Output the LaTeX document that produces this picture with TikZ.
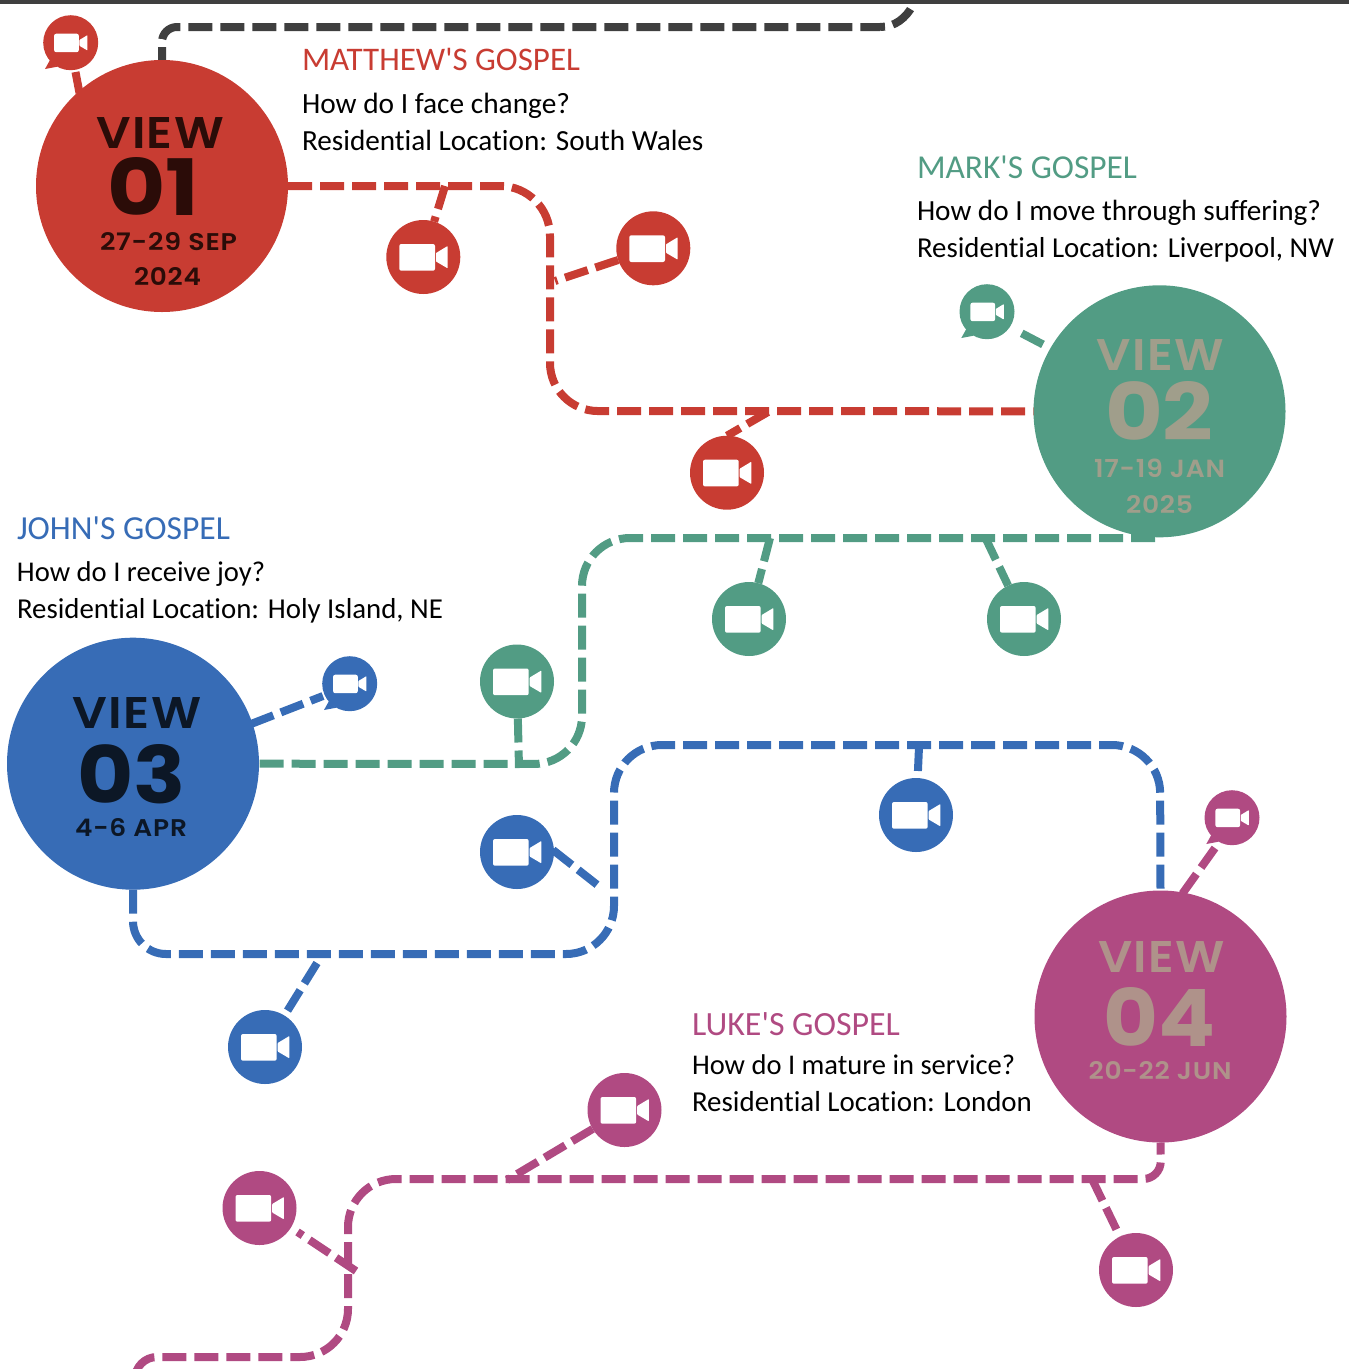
\documentclass[tikz,border=0pt]{standalone}
\usepackage{fontspec}
\usepackage{graphicx}
\setmainfont{Carlito}[Ligatures={TeXOff,CommonOff}]
\newfontfamily\viewfont{Poppins SemiBold}[LetterSpace=3]
\newfontfamily\digitfont{Poppins Bold}
\definecolor{cred}{HTML}{C83C32}
\definecolor{cgreen}{HTML}{529C84}
\definecolor{cblue}{HTML}{376CB6}
\definecolor{cmag}{HTML}{B04A82}
\definecolor{cdark}{HTML}{3F3F3F}
\definecolor{tred}{HTML}{2B0C08}
\definecolor{tgreen}{HTML}{A09E8B}
\definecolor{tblue}{HTML}{0C1726}
\definecolor{tmag}{HTML}{AF928A}
\pgfdeclarelayer{bg}
\pgfsetlayers{bg,main}
\newcommand{\fitw}[2]{\resizebox{#1pt}{!}{\strut #2}}
\newcommand{\fitwh}[3]{\resizebox{#1pt}{#2pt}{\viewfont #3}}
\newcommand{\fitdg}[3]{\resizebox{#1pt}{#2pt}{\digitfont #3}}
\tikzset{
  view/.style={circle,fill=#1,inner sep=0pt,outer sep=0pt,minimum size=252pt},
  cam/.style={circle,fill=#1,inner sep=0pt,outer sep=0pt,minimum size=74pt},
  smallcam/.style={circle,fill=#1,inner sep=0pt,outer sep=0pt,minimum size=55pt},
  route/.style={draw=#1,line width=8pt,dash pattern=on 24pt off 8pt,line cap=butt},
  txt/.style={anchor=base west,inner sep=0pt,outer sep=0pt},
  camicon/.pic={
    \fill[white,rounded corners=2pt] (-24,-13) rectangle (11.7,13.7);
    \fill[white,rounded corners=0.6pt] (12.7,-4) -- (24.3,-11) -- (24.3,11.3) -- (12.7,4.5) -- cycle;
  },
  tail/.pic={
    \fill[pic actions] (-20.7,17.3) -- (-25.7,26.3) -- (-13.4,24) -- cycle;
  }
}
\begin{document}
\begin{tikzpicture}[x=1pt,y=-1pt]
\useasboundingbox (0,0) rectangle (1349,1369);
\clip (0,0) rectangle (1349,1369);

% views
\node[view=cred]   (v1) at (162,186) {};
\node[view=cgreen] (v2) at (1159.5,411.3) {};
\node[view=cblue]  (v3) at (133,763.7) {};
\node[view=cmag]   (v4) at (1160.5,1016.5) {};

% cams
\node[cam=cred]   (c1) at (423.3,257) {};
\node[cam=cred]   (c2) at (653.3,248.3) {};
\node[cam=cred]   (c3) at (727,472.7) {};
\node[cam=cgreen] (c4) at (749,619) {};
\node[cam=cgreen] (c5) at (1024,619) {};
\node[cam=cgreen] (c6) at (517,681.5) {};
\node[cam=cblue]  (c7) at (916,815) {};
\node[cam=cblue]  (c8) at (517,852) {};
\node[cam=cblue]  (c9) at (265,1047) {};
\node[cam=cmag]   (c10) at (624.5,1110) {};
\node[cam=cmag]   (c11) at (259.5,1208) {};
\node[cam=cmag]   (c12) at (1136,1270) {};
\foreach \n in {c1,c2,c3,c4,c5,c6,c7,c8,c9,c10,c11,c12} \pic at (\n) {camicon};

% bubbles
\node[smallcam=cred]   (b1) at (70.7,42.7) {};
\node[smallcam=cgreen] (b2) at (987,311.7) {};
\node[smallcam=cblue]  (b3) at (349.7,683.7) {};
\node[smallcam=cmag]   (b4) at (1232,817.7) {};
\foreach \n/\c in {b1/cred,b2/cgreen,b3/cblue,b4/cmag}{
  \pic[fill=\c] at (\n) {tail};
  \pic[scale=0.69] at (\n) {camicon};
}

% view texts
\node[txt,text=tred] (v1a) at (96,148.3) {\fitwh{128}{31}{VIEW}};
\node[txt,text=tred] (v1b) at (107.5,215) {\fitdg{92}{58}{01}};
\node[txt,text=tred] (v1c) at (100,250) {\fitwh{137}{18}{27-29 SEP}};
\node[txt,text=tred] (v1d) at (134,285.7) {\fitwh{67}{18}{2024}};
\node[txt,text=tgreen] (v2a) at (1096.5,370) {\fitwh{127.5}{31}{VIEW}};
\node[txt,text=tgreen] (v2b) at (1105,440.7) {\fitdg{108.5}{59}{02}};
\node[txt,text=tgreen] (v2c) at (1094,477.3) {\fitwh{131}{18.5}{17-19 JAN}};
\node[txt,text=tgreen] (v2d) at (1126,513.3) {\fitwh{67}{18}{2025}};
\node[txt,text=tblue] (v3a) at (72.5,728.7) {\fitwh{129}{31}{VIEW}};
\node[txt,text=tblue] (v3b) at (77,803.3) {\fitdg{108.5}{59}{03}};
\node[txt,text=tblue] (v3c) at (75,836.7) {\fitwh{112}{18}{4-6 APR}};
\node[txt,text=tmag] (v4a) at (1098,972.7) {\fitwh{127}{31}{VIEW}};
\node[txt,text=tmag] (v4b) at (1103.5,1046) {\fitdg{112}{59}{04}};
\node[txt,text=tmag] (v4c) at (1088.5,1079.3) {\fitwh{143}{18}{20-22 JUN}};

% gospel texts
\node[txt,text=cred] (t1a) at (302,70) {\fitw{278}{MATTHEW'S GOSPEL}};
\node[txt] (t1b) at (302,113) {\fitw{268}{How do I face change?}};
\node[txt] (t1c) at (302,150) {\fitw{401.5}{Residential Location: South Wales}};
\node[txt,text=cgreen] (t2a) at (917,178) {\fitw{220}{MARK'S GOSPEL}};
\node[txt] (t2b) at (917,220) {\fitw{404}{How do I move through suffering?}};
\node[txt] (t2c) at (917,257) {\fitw{417}{Residential Location: Liverpool, NW}};
\node[txt,text=cblue] (t3a) at (17,539.5) {\fitw{213}{JOHN'S GOSPEL}};
\node[txt] (t3b) at (17,581.5) {\fitw{248}{How do I receive joy?}};
\node[txt] (t3c) at (17,618) {\fitw{426}{Residential Location: Holy Island, NE}};
\node[txt,text=cmag] (t4a) at (692,1035.5) {\fitw{208}{LUKE'S GOSPEL}};
\node[txt] (t4b) at (692,1074.5) {\fitw{323}{How do I mature in service?}};
\node[txt] (t4c) at (692,1111) {\fitw{340}{Residential Location: London}};

% top bar
\fill[cdark] (0,0) rectangle (1349,4);

% named bends and free ends
\coordinate (d0) at (162,27);
\coordinate (d1) at (880,27);
\coordinate (d2) at (913,5);
\coordinate (r1) at (550,186);
\coordinate (r2) at (550,411);
\coordinate (j1) at (445,186);
\coordinate (j2) at (555,281);
\coordinate (j3) at (768,412);
\coordinate (g0) at (1155,538);
\coordinate (g1) at (582,538);
\coordinate (g2) at (582,764);
\coordinate (j4) at (770,538);
\coordinate (j5) at (985.5,538);
\coordinate (j6) at (519,768);
\coordinate (l1) at (133,954);
\coordinate (l2) at (614,954);
\coordinate (l3) at (614,745);
\coordinate (l4) at (1160,745);
\coordinate (j7) at (919,747);
\coordinate (j8a) at (553,850);
\coordinate (j8) at (600,887);
\coordinate (j9) at (317,963);
\coordinate (m1) at (1161,1179);
\coordinate (m2) at (348,1179);
\coordinate (m3) at (348,1357);
\coordinate (m4) at (135,1357);
\coordinate (m5) at (135,1390);
\coordinate (j10) at (507,1180);
\coordinate (j11) at (356,1271);
\coordinate (j11b) at (297.5,1232);
\coordinate (j12) at (1092,1179);
\coordinate (k1a) at (75.5,72);
\coordinate (k1b) at (79.5,93);
\coordinate (k2a) at (1021.7,333.3);
\coordinate (k2b) at (1045,345.5);
\coordinate (k3a) at (251,724);
\coordinate (k3b) at (323,696);
\coordinate (k4a) at (1215,848);
\coordinate (k4b) at (1180,897);

\begin{pgfonlayer}{bg}
\draw[route=cdark,dash phase=11pt,rounded corners=15pt] (v1.north) -- (d0) -- (d1);
\draw[route=cdark,dash phase=19pt] (d1) .. controls (895,27) and (906,18) .. (d2);
\draw[route=cred] (v1.east) [rounded corners=50pt] -- (r1) [rounded corners=48pt] -- (r2) -- (v2.west);
\draw[route=cred] (j1) -- (c1);
\draw[route=cred] (c2) -- (j2);
\draw[route=cred] (j3) -- (c3.north);
\draw[route=cgreen,rounded corners=48pt] (g0) -- (g1) -- (g2) -- (v3.east);
\draw[route=cgreen] (j4) -- (c4);
\draw[route=cgreen] (j5) -- (c5);
\draw[route=cgreen] (c6) -- (j6);
\draw[route=cblue] (v3.south) [rounded corners=33pt] -- (l1) [rounded corners=48pt] -- (l2) -- (l3) -- (l4) -- (v4.north);
\draw[route=cblue] (j7) -- (c7);
\draw[route=cblue] (j8a) -- (j8);
\draw[route=cblue] (j9) -- (c9);
\draw[route=cmag,dash phase=12pt] (v4.south) [rounded corners=18pt] -- (m1) [rounded corners=48pt] -- (m2) -- (m3) [rounded corners=22pt] -- (m4) -- (m5);
\draw[route=cmag] (c10) -- (j10);
\draw[route=cmag] (j11) -- (j11b);
\draw[route=cmag] (j12) -- (c12);
\draw[route=cred] (k1a) -- (k1b);
\draw[route=cgreen] (k2a) -- (k2b);
\draw[route=cblue] (k3a) -- (k3b);
\draw[route=cmag] (k4a) -- (k4b);
\end{pgfonlayer}
\end{tikzpicture}
\end{document}
